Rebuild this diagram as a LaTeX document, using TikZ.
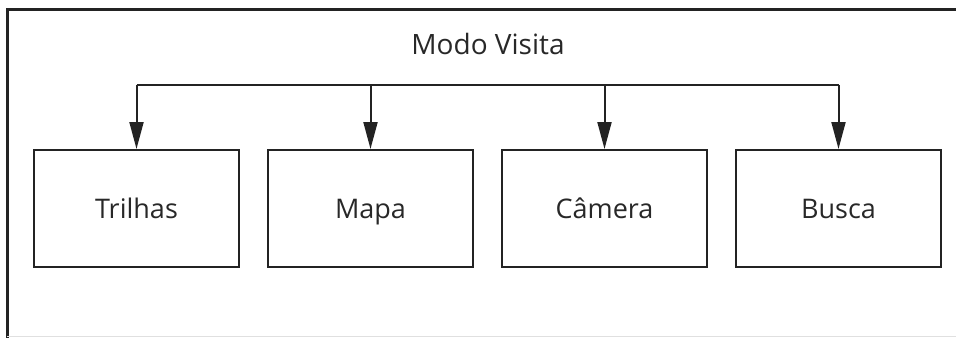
\documentclass[tikz,border=0pt]{standalone}
\usepackage{fontspec}
\setmainfont{Open Sans}
\usetikzlibrary{arrows.meta,positioning}
\definecolor{visitaline}{RGB}{35,35,35}
\definecolor{visitatext}{RGB}{40,40,40}

\begin{document}
\begin{tikzpicture}[x=1pt,y=-1pt,>={Triangle[length=27pt,width=14pt]},
  modobox/.style={draw=visitaline,line width=2pt,minimum width=205pt,
    minimum height=117pt,inner sep=0pt,font=\fontsize{27}{30}\selectfont,
    text height=20pt,text depth=0pt,text=visitatext},
  busline/.style={draw=visitaline,line width=2pt}]
\useasboundingbox (0,0) rectangle (956,338);
% moldura: só topo e lado esquerdo
\draw[visitaline,line width=3pt] (956,9) -- (7,9) -- (7,338);
\draw[black!12,line width=1pt] (7,336.5) -- (956,336.5);
% titulo
\node[font=\fontsize{28}{31}\selectfont,text=visitatext] (modo) at (488,44) {Modo Visita};
% quatro caixas
\node[modobox] (trilhas) at (136.5,208.5) {Trilhas};
\node[modobox,right=27pt of trilhas] (mapa) {Mapa};
\node[modobox,right=27pt of mapa] (camera) {Câmera};
\node[modobox,right=27pt of camera] (busca) {Busca};
% barramento e setas
\coordinate (bus) at (0,85);
\draw[busline] (trilhas.north |- bus) -- (busca.north |- bus);
\foreach \n in {trilhas,mapa,camera,busca}
  \draw[busline,->] (\n.north |- bus) -- (\n.north);
\end{tikzpicture}
\end{document}
